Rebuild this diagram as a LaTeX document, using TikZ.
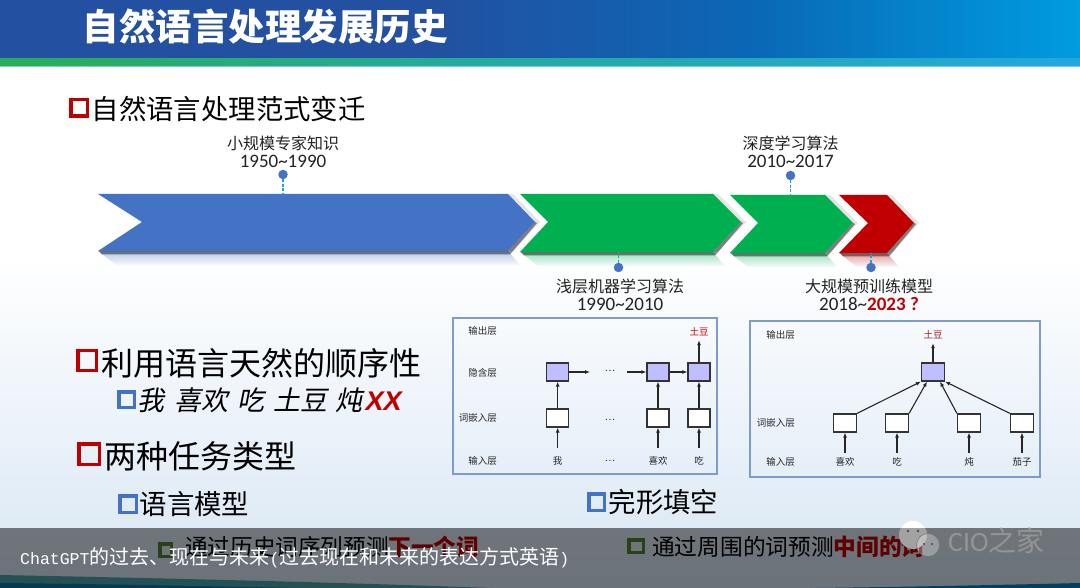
\documentclass[tikz,border=0pt]{standalone}
\usepackage{fontspec}
\usetikzlibrary{arrows.meta,shapes.geometric}
\setmainfont{Noto Sans CJK SC}
\newfontfamily\latf{Carlito}
\newfontfamily\monof{Liberation Mono}
\newfontfamily\slantf[FakeSlant=0.2]{Noto Sans CJK SC}
\newfontfamily\arialbi[FakeSlant=0.2]{Liberation Sans}
\definecolor{ban1}{HTML}{2350A0}
\definecolor{ban2}{HTML}{0A68B6}
\definecolor{ban3}{HTML}{009CE0}
\definecolor{str1}{HTML}{2AAD55}
\definecolor{str2}{HTML}{25AAA2}
\definecolor{str3}{HTML}{22A8DC}
\definecolor{mkred}{HTML}{C00000}
\definecolor{mkblue}{HTML}{4472C4}
\definecolor{mkgreen}{HTML}{548235}
\definecolor{chblue}{HTML}{4472C4}
\definecolor{chgreen}{HTML}{00B050}
\definecolor{panel}{HTML}{7F9BC8}
\definecolor{hid}{HTML}{BFBFFF}
\definecolor{txt}{HTML}{222222}
\definecolor{bgend}{HTML}{D8E6F4}
\definecolor{bgrefl}{HTML}{F8FAFD}
\newcommand{\fs}[1]{\fontsize{#1}{#1}\selectfont}
% x-left, x-notch, x-shoulder, x-tip, y-top, y-mid, y-bottom, colour
\newcommand{\mychev}[8]{%
  \shade[top color=#8!40!white, bottom color=bgrefl, draw=none]
    (#1,#7) -- (#3,#7) -- (#3+12,#7+14) -- (#1+18,#7+14) -- cycle;
  \fill[black!10] (#3-3,#5) -- (#3+5,#5) -- (#4+5,#6) -- (#3+5,#7) -- (#3-3,#7) -- cycle;
  \fill[black,opacity=.45] (#1+1,#7) -- (#3,#7) -- (#4,#6) -- (#4+2,#6+1) -- (#3+2,#7+3.5) -- (#1+4,#7+3.5) -- cycle;
  \fill[#8] (#1,#5) -- (#3,#5) -- (#4,#6) -- (#3,#7) -- (#1,#7) -- (#2,#6) -- cycle;
}
\newcommand{\mymark}[6]{% name, x0,y0,x1,y1,colour
  \node[markbox,draw=#6,minimum width=#4-#2-3.5,minimum height=#5-#3-3.5] (#1) at ({(#2+#4)/2},{(#3+#5)/2}) {};
}
\tikzset{
  x=1pt,y=-1pt,
  markbox/.style={rectangle,fill=none,line width=3.5pt,inner sep=0pt},
  lefttext/.style={anchor=west,inner sep=0pt,text=black},
  tl/.style={align=center,inner sep=0pt,text=txt,font=\fs{16}},
  tlnum/.style={inner sep=0pt,text=txt,font=\latf\fs{19}},
  pinline/.style={draw=mkblue!40!cyan!85!black,line width=1.3pt,dash pattern=on 3pt off 1.5pt},
  pindot/.style={circle,fill=mkblue,inner sep=0pt,minimum size=9.5pt},
  panelbox/.style={draw=panel,line width=1.4pt,fill=none},
  small/.style={inner sep=0pt,text=black!85,font=\fs{9.5}},
  inlab/.style={small,minimum height=26pt},
  inlabb/.style={small,minimum height=18pt},
  outlab/.style={small,text=red!85!black,minimum height=16pt},
  rowlab/.style={small,anchor=east},
  emb/.style={draw=black!80,line width=1.2pt,fill=white,minimum width=22pt,minimum height=18pt,inner sep=0pt},
  hidb/.style={emb,fill=hid},
  arr/.style={-{Latex[length=5pt,width=4pt]},line width=1.1pt,draw=black!85},
}
\begin{document}
\begin{tikzpicture}
\useasboundingbox (0,0) rectangle (1080,588);
% background
\fill[white] (0,0) rectangle (1080,588);
\shade[top color=white,bottom color=bgend] (0,255) rectangle (1080,588);
% banner
\fill[ban1] (0,0) rectangle (421,59);
\shade[left color=ban1,right color=ban2] (420,0) rectangle (757,59);
\shade[left color=ban2,right color=ban3] (756,0) rectangle (1080,59);
\shade[left color=str1,right color=str2] (0,59) rectangle (501,66);
\shade[left color=str2,right color=str3] (500,59) rectangle (1080,66);
\fill[str3!60!white] (0,66) rectangle (1080,67);
\node[lefttext,text=white,font=\bfseries\fs{36.5}] (title) at (82.5,27) {自然语言处理发展历史};
% heading
\mymark{mk1}{69}{98}{89}{118}{mkred}
\node[lefttext,font=\fs{27.4}] (head) at (91.5,109) {自然语言处理范式变迁};
% timeline chevrons
\mychev{839}{868}{887}{914}{195}{223}{253}{mkred}
\mychev{730}{758}{825}{853}{195}{223}{253}{chgreen}
\mychev{520}{548}{713}{741}{194}{222}{252}{chgreen}
\mychev{98}{142}{508}{535}{194}{222}{251}{chblue}
% pins
\coordinate (a1) at (283,194);
\coordinate (a2) at (618.5,252);
\coordinate (a3) at (790.5,195);
\coordinate (a4) at (871,253);
\node[pindot] (p1) at (283,174.5) {};
\node[pindot] (p2) at (618.5,267.5) {};
\node[pindot] (p3) at (790.5,175.5) {};
\node[pindot] (p4) at (871,267.5) {};
\draw[pinline] (p1) -- (a1);
\draw[pinline] (p2) -- (a2);
\draw[pinline] (p3) -- (a3);
\draw[pinline] (p4) -- (a4);
\node[tl] (l1) at (283,143) {小规模专家知识};
\node[tlnum] (n1) at (283,161.5) {1950\textasciitilde1990};
\node[tl] (l2) at (620,286) {浅层机器学习算法};
\node[tlnum] (n2) at (620,304.5) {1990\textasciitilde2010};
\node[tl] (l3) at (790.5,143) {深度学习算法};
\node[tlnum] (n3) at (790.5,161.5) {2010\textasciitilde2017};
\node[tl] (l4) at (869,286) {大规模预训练模型};
\node[tlnum] (n4) at (869,304.5) {2018\textasciitilde{\bfseries\color{mkred}2023 ?}};
% left column
\mymark{mk2}{76}{349}{98}{372}{mkred}
\node[lefttext,font=\fs{32}] (t2) at (101,363) {利用语言天然的顺序性};
\mymark{mk3}{117}{390}{136}{409}{mkblue}
\node[lefttext,font=\slantf\fs{27}] (t3) at (137,400) {我\hspace{10pt}喜欢\hspace{9pt}吃\hspace{9pt}土豆\hspace{8pt}炖\hspace{2pt}{\arialbi\bfseries\color{mkred}XX}};
\mymark{mk4}{77}{442}{101}{466}{mkred}
\node[lefttext,font=\fs{32}] (t4) at (104,456) {两种任务类型};
\mymark{mk5}{118}{494}{138}{514}{mkblue}
\node[lefttext,font=\fs{27.4}] (t5) at (139.5,504) {语言模型};
\mymark{mk6}{587}{492}{606}{512}{mkblue}
\node[lefttext,font=\fs{27.4}] (t6) at (608.5,502) {完形填空};
\mymark{mk7}{158}{542}{173}{558}{mkgreen}
\node[lefttext,font=\fs{22.6}] (t7) at (185,547) {通过历史词序列预测{\bfseries\color{mkred}下一个词}};
\mymark{mk8}{627}{538}{645}{554}{mkgreen}
\node[lefttext,font=\fs{22.7}] (t8) at (652,547) {通过周围的词预测{\bfseries\color{mkred}中间的词}};
% panel 1
\draw[panelbox] (453,318) rectangle (717,474);
\node[rowlab] (r11) at (497,331) {输出层};
\node[rowlab] (r12) at (497,373) {隐含层};
\node[rowlab] (r13) at (497,418) {词嵌入层};
\node[rowlab] (r14) at (497,461) {输入层};
\node[hidb] (h1) at (557.7,372) {};
\node[hidb] (h2) at (658,372) {};
\node[hidb] (h3) at (699,372) {};
\node[emb] (e1) at (557.7,418) {};
\node[emb] (e2) at (658,418) {};
\node[emb] (e3) at (699,418) {};
\node[inlab] (i1) at (557.7,461) {我};
\node[small] (d1) at (610,371) {…};
\node[small] (d2) at (610,420) {…};
\node[small] (d3) at (610,461) {…};
\node[inlab] (i2) at (658,461) {喜欢};
\node[inlab] (i3) at (699,461) {吃};
\node[outlab] (o1) at (699,332) {土豆};
\coordinate (c1) at (590,372);
\coordinate (c2) at (627,372);
\draw[arr] (i1) -- (e1);
\draw[arr] (i2) -- (e2);
\draw[arr] (i3) -- (e3);
\draw[arr] (e1) -- (h1);
\draw[arr] (e2) -- (h2);
\draw[arr] (e3) -- (h3);
\draw[arr] (h1) -- (c1);
\draw[arr] (c2) -- (h2);
\draw[arr] (h2) -- (h3);
\draw[arr] (h3) -- (o1);
% panel 2
\draw[panelbox] (750,321) rectangle (1040,477);
\node[rowlab] (r21) at (795,335) {输出层};
\node[rowlab] (r23) at (795,423) {词嵌入层};
\node[rowlab] (r24) at (795,462) {输入层};
\node[hidb,minimum width=23pt] (hh) at (933,372) {};
\node[emb,minimum width=23pt] (f1) at (845,423) {};
\node[emb,minimum width=23pt] (f2) at (897,423) {};
\node[emb,minimum width=23pt] (f3) at (969,423) {};
\node[emb,minimum width=23pt] (f4) at (1022,423) {};
\node[inlabb] (g1) at (845,462) {喜欢};
\node[inlabb] (g2) at (897,462) {吃};
\node[inlabb] (g3) at (969,462) {炖};
\node[inlabb] (g4) at (1022,462) {茄子};
\node[outlab,text=red!55!black!90] (o2) at (933,335) {土豆};
\draw[arr] (g1) -- (f1);
\draw[arr] (g2) -- (f2);
\draw[arr] (g3) -- (f3);
\draw[arr] (g4) -- (f4);
\draw[arr] (f1.north east) -- (hh.south west);
\draw[arr] (f2.north east) -- ([xshift=-6pt]hh.south);
\draw[arr] (f3.north west) -- ([xshift=7pt]hh.south);
\draw[arr] (f4.north west) -- (hh.south east);
\draw[arr] (hh) -- (o2);
% bottom swooshes
\fill[chgreen!70!blue!70] (0,575) .. controls (150,578) and (330,582) .. (490,588) -- (0,588) -- cycle;
\fill[ban2!90!green] (0,583) .. controls (100,584) and (200,586) .. (300,588) -- (0,588) -- cycle;
\fill[ban3!85!black] (815,588) .. controls (900,587) and (1000,585) .. (1080,583) -- (1080,588) -- cycle;
% watermark bubble behind overlay
\fill[white] (913,535) circle (14);
% caption overlay
\fill[black,opacity=.5] (0,528) rectangle (1080,588);
\fill[white,opacity=.28] (913,535) circle (14);
\fill[white,opacity=.3] (928,545) circle (11.5);
\draw[black!55,line width=.5pt] (928,545) circle (11.5);
\fill[black!70] (908,531) circle (1.3) (918,531) circle (1.3) (924,544) circle (1.1) (932,544) circle (1.1);
\node[lefttext,text=white!58!black,font=\latf\fs{28}] (wm) at (948,541) {CIO{\rmfamily\fs{28}之家}};
\node[lefttext,text=white,font=\fs{20}] (cap) at (20,558) {{\monof\fs{16.5}ChatGPT}的过去、现在与未来{\monof\fs{16.5}(}过去现在和未来的表达方式英语{\monof\fs{16.5})}};
\end{tikzpicture}
\end{document}
